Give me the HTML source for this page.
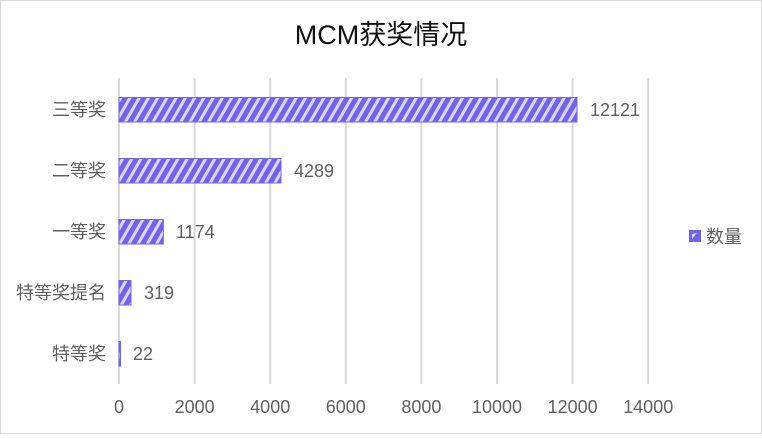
<!DOCTYPE html>
<html><head><meta charset="utf-8"><style>
html,body{margin:0;padding:0;background:#fff}
</style></head><body>
<svg width="762" height="434" xmlns="http://www.w3.org/2000/svg" font-family="Liberation Sans, Noto Sans CJK SC, sans-serif">
<defs>
<pattern id="st" width="8" height="8" patternUnits="userSpaceOnUse" patternTransform="rotate(30)">
<rect width="8" height="8" fill="#7262f0"/>
<rect width="3" height="8" fill="#dcd8fa"/>
</pattern>
</defs>
<rect x="0.5" y="0.5" width="761" height="433" fill="#fff" stroke="#d9d9d9"/>
<text x="381" y="44" text-anchor="middle" font-size="27" fill="#111">MCM获奖情况</text>
<g stroke="#d9d9d9" stroke-width="2">
<line x1="119" y1="78" x2="119" y2="384"/>
<line x1="194.6" y1="78" x2="194.6" y2="384"/>
<line x1="270.2" y1="78" x2="270.2" y2="384"/>
<line x1="345.8" y1="78" x2="345.8" y2="384"/>
<line x1="421.4" y1="78" x2="421.4" y2="384"/>
<line x1="497" y1="78" x2="497" y2="384"/>
<line x1="572.6" y1="78" x2="572.6" y2="384"/>
<line x1="648.2" y1="78" x2="648.2" y2="384"/>
</g>
<g fill="url(#st)" stroke="#7262f0" stroke-width="1">
<rect x="119" y="97.5" width="458" height="24.5"/>
<rect x="119" y="158.5" width="162" height="24.5"/>
<rect x="119" y="219.5" width="44.4" height="24.5"/>
<rect x="119" y="280.5" width="12" height="24.5"/>
<rect x="119" y="341.5" width="1.5" height="24.5"/>
</g>
<g font-size="18" fill="#606060">
<text x="590" y="116">12121</text>
<text x="294" y="177">4289</text>
<text x="176" y="238">1174</text>
<text x="144" y="299">319</text>
<text x="133" y="360">22</text>
</g>
<g font-size="18" fill="#606060" text-anchor="end">
<text x="106" y="116">三等奖</text>
<text x="106" y="177">二等奖</text>
<text x="106" y="238">一等奖</text>
<text x="106" y="299">特等奖提名</text>
<text x="106" y="360">特等奖</text>
</g>
<g font-size="18" fill="#606060" text-anchor="middle">
<text x="119" y="413">0</text>
<text x="194.6" y="413">2000</text>
<text x="270.2" y="413">4000</text>
<text x="345.8" y="413">6000</text>
<text x="421.4" y="413">8000</text>
<text x="497" y="413">10000</text>
<text x="572.6" y="413">12000</text>
<text x="648.2" y="413">14000</text>
</g>
<rect x="689" y="230" width="12" height="12" fill="#7262f0"/>
<path d="M692 239 L692 234 L697 233 Z" fill="#dcd8fa"/>
<text x="706" y="243" font-size="18" fill="#606060">数量</text>
</svg>
</body></html>
